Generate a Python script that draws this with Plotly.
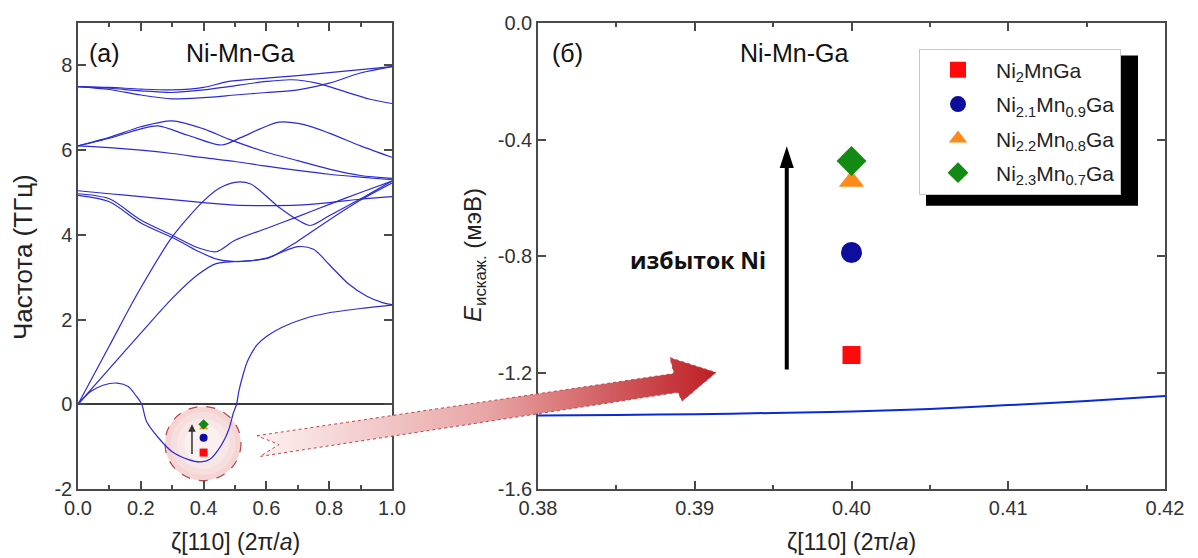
import plotly.graph_objects as go

# ---------------- data: left panel, phonon branches along [110] ----------------
A1_x = [0, 0.1, 0.2, 0.3, 0.4, 0.48, 0.6, 0.7, 0.8, 0.9, 1.0]
A1_y = [7.5, 7.48, 7.44, 7.42, 7.48, 7.62, 7.7, 7.76, 7.83, 7.9, 7.97]
A2_x = [0, 0.1, 0.2, 0.3, 0.4, 0.48, 0.6, 0.68, 0.76, 0.85, 0.93, 1.0]
A2_y = [7.5, 7.46, 7.4, 7.36, 7.42, 7.5, 7.62, 7.66, 7.58, 7.38, 7.2, 7.1]
A3_x = [0, 0.1, 0.2, 0.3, 0.4, 0.5, 0.6, 0.7, 0.8, 0.9, 1.0]
A3_y = [7.5, 7.43, 7.3, 7.21, 7.24, 7.3, 7.36, 7.42, 7.58, 7.82, 7.97]

B1_x = [0, 0.1, 0.2, 0.3, 0.4, 0.48, 0.6, 0.7, 0.8, 0.9, 1.0]
B1_y = [6.1, 6.3, 6.55, 6.69, 6.5, 6.26, 5.95, 5.75, 5.55, 5.4, 5.33]
B2_x = [0, 0.1, 0.2, 0.255, 0.35, 0.457, 0.52, 0.58, 0.64, 0.72, 0.8, 0.9, 1.0]
B2_y = [6.1, 6.28, 6.5, 6.57, 6.35, 6.12, 6.3, 6.5, 6.66, 6.6, 6.4, 6.1, 5.83]
B3_x = [0, 0.1, 0.2, 0.3, 0.4, 0.5, 0.6, 0.7, 0.8, 0.9, 1.0]
B3_y = [6.1, 6.06, 6.0, 5.92, 5.82, 5.73, 5.62, 5.52, 5.43, 5.36, 5.3]

C1_x = [0, 0.1, 0.2, 0.3, 0.4, 0.5, 0.6, 0.7, 0.8, 0.9, 1.0]
C1_y = [5.04, 4.97, 4.9, 4.83, 4.76, 4.7, 4.69, 4.7, 4.76, 4.84, 4.9]
C2_x = [0, 0.1, 0.2, 0.3, 0.38, 0.44, 0.5, 0.6, 0.7, 0.8, 0.9, 1.0]
C2_y = [4.97, 4.85, 4.35, 3.99, 3.7, 3.6, 3.87, 4.15, 4.43, 4.72, 5.0, 5.27]
C3_x = [0, 0.1, 0.2, 0.31, 0.38, 0.445, 0.52, 0.6, 0.7, 0.75, 0.8, 0.86, 0.92, 0.97, 1.0]
C3_y = [4.93, 4.78, 4.28, 3.9, 3.62, 3.42, 3.37, 3.45, 3.72, 3.66, 3.3, 2.85, 2.55, 2.4, 2.35]

D1_x = [0, 0.1, 0.19, 0.3, 0.4, 0.45, 0.5, 0.55, 0.64, 0.7, 0.74, 0.8, 0.9, 1.0]
D1_y = [0, 1.38, 2.62, 3.95, 4.8, 5.1, 5.24, 5.2, 4.65, 4.35, 4.22, 4.45, 4.85, 5.27]
D2_x = [0, 0.1, 0.2, 0.3, 0.38, 0.44, 0.5, 0.56, 0.61, 0.7, 0.8, 0.9, 1.0]
D2_y = [0, 0.84, 1.68, 2.5, 3.05, 3.32, 3.37, 3.4, 3.46, 3.85, 4.35, 4.82, 5.22]
D3_x = [0, 0.04, 0.08, 0.125, 0.16, 0.185, 0.203, 0.218, 0.256, 0.3, 0.35, 0.39,
        0.42, 0.457, 0.48, 0.495, 0.505, 0.512, 0.525, 0.54, 0.57, 0.6, 0.65, 0.72, 0.8, 0.91, 1.0]
D3_y = [0, 0.3, 0.45, 0.5, 0.42, 0.2, 0.0, -0.4, -0.79, -1.12, -1.3, -1.36,
        -1.3, -0.96, -0.6, -0.2, 0.0, 0.3, 0.68, 1.02, 1.4, 1.6, 1.82, 2.02, 2.16, 2.27, 2.34]

branches = [(A1_x, A1_y), (A2_x, A2_y), (A3_x, A3_y),
            (B1_x, B1_y), (B2_x, B2_y), (B3_x, B3_y),
            (C1_x, C1_y), (C2_x, C2_y), (C3_x, C3_y),
            (D1_x, D1_y), (D2_x, D2_y), (D3_x, D3_y)]

left_xticks = [0, 0.2, 0.4, 0.6, 0.8, 1.0]
left_xticktext = ["0.0", "0.2", "0.4", "0.6", "0.8", "1.0"]
left_yticks = [-2, 0, 2, 4, 6, 8]
left_yticktext = ["-2", "0", "2", "4", "6", "8"]

# ---------------- data: right panel ----------------
zoom_x = [0.38, 0.385, 0.39, 0.395, 0.40, 0.405, 0.41, 0.415, 0.42]
zoom_E = [-1.348, -1.346, -1.343, -1.339, -1.334, -1.325, -1.312, -1.298, -1.281]

compounds = ["Ni<sub>2</sub>MnGa", "Ni<sub>2.1</sub>Mn<sub>0.9</sub>Ga",
             "Ni<sub>2.2</sub>Mn<sub>0.8</sub>Ga", "Ni<sub>2.3</sub>Mn<sub>0.7</sub>Ga"]
comp_zeta = [0.40, 0.40, 0.40, 0.40]
comp_E = [-1.140, -0.788, -0.543, -0.474]
comp_symbols = ["square", "circle", "triangle-up", "diamond"]
comp_colors = ["#ff0a0a", "#0d0d9e", "#ff8a1a", "#138a13"]
comp_sizes = [18, 21, 22, 23]

right_xticks = [0.38, 0.39, 0.40, 0.41, 0.42]
right_xticktext = ["0.38", "0.39", "0.40", "0.41", "0.42"]
right_yticks = [0.0, -0.4, -0.8, -1.2, -1.6]
right_yticktext = ["0.0", "-0.4", "-0.8", "-1.2", "-1.6"]

# big connecting arrow outline (pixel coords of the figure)
bigarrow_px = [257, 674, 670, 716, 682, 678, 260, 279, 257]
bigarrow_py = [435, 372, 356, 371, 400, 391, 456, 444, 435]

# ---------------- figure ----------------
L, R, T, B = 78, 33, 17, 69
W, H = 1198, 558
PW, PH = W - L - R, H - T - B


def px2paper_x(px):
    return (px - L) / PW


def py2paper_y(py):
    return (H - B - py) / PH


BAND = "#2b2bd6"
AX = "#4a4a4a"
FONT = "Liberation Sans, Arial, sans-serif"

fig = go.Figure()

for bx, by in branches:
    fig.add_trace(go.Scatter(x=bx, y=by, mode="lines", line=dict(color=BAND, width=1.2, shape="spline", smoothing=0.8),
                             xaxis="x", yaxis="y", showlegend=False, hoverinfo="skip"))

# inset mini markers on the left panel
for i in range(4):
    fig.add_trace(go.Scatter(x=[comp_zeta[i]], y=[comp_E[i]], mode="markers",
                             marker=dict(symbol=comp_symbols[i], color=comp_colors[i], size=8),
                             xaxis="x", yaxis="y", showlegend=False, hoverinfo="skip"))

# right panel line
fig.add_trace(go.Scatter(x=zoom_x, y=zoom_E, mode="lines", line=dict(color="#0a2ad4", width=2, shape="spline"),
                         xaxis="x2", yaxis="y2", showlegend=False, hoverinfo="skip"))

for i in range(4):
    fig.add_trace(go.Scatter(x=[comp_zeta[i]], y=[comp_E[i]], mode="markers", name=compounds[i],
                             legendgroup=str(i),
                             marker=dict(symbol=comp_symbols[i], color=comp_colors[i], size=comp_sizes[i]),
                             xaxis="x2", yaxis="y2"))

# big arrow on an invisible full-area overlay axis (pixel coordinates)
fig.add_trace(go.Scatter(x=bigarrow_px, y=bigarrow_py, mode="lines", fill="toself",
                         fillgradient=dict(type="horizontal",
                                           colorscale=[[0, "#fdf1f1"], [0.5, "#e8a5a5"], [1, "#be1f25"]]),
                         line=dict(color="#c0454a", width=1, dash="dot"),
                         xaxis="x3", yaxis="y3", showlegend=False, hoverinfo="skip"))

axis_common = dict(showline=True, linecolor=AX, linewidth=1.5, mirror="ticks", ticks="inside",
                   ticklen=8, tickwidth=1.5, tickcolor=AX, showgrid=False,
                   tickfont=dict(family=FONT, size=20, color="#333"))

fig.update_layout(
    width=W, height=H,
    margin=dict(l=L, r=R, t=T, b=B),
    paper_bgcolor="white", plot_bgcolor="rgba(0,0,0,0)",
    font=dict(family=FONT, color="#222"),
    xaxis=dict(domain=[0, px2paper_x(392)], range=[0, 1], anchor="y",
               tickvals=left_xticks, ticktext=left_xticktext, zeroline=False,
               minor=dict(ticks="inside", ticklen=4, dtick=0.1, tick0=0, tickcolor=AX, tickwidth=1.5),
               **axis_common),
    yaxis=dict(domain=[0, 1], range=[-2, 9], anchor="x",
               tickvals=left_yticks, ticktext=left_yticktext,
               zeroline=True, zerolinecolor="#3a3a3a", zerolinewidth=2, **axis_common),
    xaxis2=dict(domain=[px2paper_x(538), 1], range=[0.38, 0.42], anchor="y2",
                tickvals=right_xticks, ticktext=right_xticktext, zeroline=False,
                minor=dict(ticks="inside", ticklen=4, dtick=0.005, tick0=0.38, tickcolor=AX, tickwidth=1.5),
                **axis_common),
    yaxis2=dict(domain=[0, 1], range=[-1.6, 0.0], anchor="x2",
                tickvals=right_yticks, ticktext=right_yticktext, zeroline=False, **axis_common),
    xaxis3=dict(domain=[0, 1], range=[L, W - R], anchor="y3", visible=False),
    yaxis3=dict(domain=[0, 1], range=[H - B, T], anchor="x3", visible=False),
    legend=dict(x=px2paper_x(919), y=py2paper_y(43), xanchor="left", yanchor="top",
                bgcolor="white", bordercolor="#c8c8c8", borderwidth=1,
                font=dict(family=FONT, size=21, color="#222"), tracegroupgap=4, itemwidth=66),
    showlegend=True,
)

# legend shadow
fig.add_shape(type="rect", xref="paper", yref="paper",
              x0=px2paper_x(926), x1=px2paper_x(1138), y0=py2paper_y(202), y1=py2paper_y(50),
              fillcolor="black", line=dict(width=0), layer="above")

# pink circle on left panel
fig.add_shape(type="circle", xref="x", yref="y", x0=0.277, x1=0.519, y0=-1.80, y1=-0.05,
              fillcolor="#f5d4d4", line=dict(color="#b5454a", width=1.2, dash="dash"), layer="below")
fig.add_shape(type="circle", xref="x", yref="y", x0=0.295, x1=0.501, y0=-1.67, y1=-0.18,
              fillcolor="#f7dede", line=dict(width=0), layer="below")
fig.add_shape(type="circle", xref="x", yref="y", x0=0.315, x1=0.481, y0=-1.52, y1=-0.33,
              fillcolor="#f9e7e7", line=dict(width=0), layer="below")
fig.add_shape(type="circle", xref="x", yref="y", x0=0.337, x1=0.459, y0=-1.36, y1=-0.49,
              fillcolor="#fbf0f0", line=dict(width=0), layer="below")

# inset arrow
fig.add_annotation(x=0.363, y=-0.47, ax=0.363, ay=-1.21, xref="x", yref="y", axref="x", ayref="y",
                   showarrow=True, arrowhead=2, arrowsize=1, arrowwidth=1.5, arrowcolor="#333", text="")

# big black arrow on right panel
fig.add_shape(type="line", xref="x2", yref="y2", x0=0.39587, x1=0.39587, y0=-1.19, y1=-0.49,
              line=dict(color="black", width=4))
fig.add_shape(type="path", xref="x2", yref="y2",
              path="M 0.39542 -0.498 L 0.39632 -0.498 L 0.39587 -0.423 Z",
              fillcolor="black", line=dict(width=0))

fig.add_annotation(x=0.39467, y=-0.815, xref="x2", yref="y2", xanchor="right", yanchor="middle",
                   showarrow=False, text="<b>избыток Ni</b>",
                   font=dict(family="Open Sans, sans-serif", size=23, color="#111"))

# panel labels
for txt, px in [("(a)", 104), ("Ni-Mn-Ga", 240), ("(б)", 567), ("Ni-Mn-Ga", 794)]:
    fig.add_annotation(x=px2paper_x(px), y=py2paper_y(47), xref="paper", yref="paper", showarrow=False,
                       xanchor="center", yanchor="middle",
                       text=txt, font=dict(family=FONT, size=25, color="#111"))

# axis titles
fig.add_annotation(x=px2paper_x(23), y=py2paper_y(254), xref="paper", yref="paper", showarrow=False,
                   xanchor="center", yanchor="middle",
                   text="Частота (ТГц)", textangle=-90, font=dict(family=FONT, size=26, color="#222"))
fig.add_annotation(x=px2paper_x(474), y=py2paper_y(252), xref="paper", yref="paper", showarrow=False,
                   xanchor="center", yanchor="middle",
                   text="<i>E</i><sub>искаж.</sub> (мэВ)", textangle=-90,
                   font=dict(family=FONT, size=24, color="#222"))
for px in (235, 851):
    fig.add_annotation(x=px2paper_x(px), y=py2paper_y(543), xref="paper", yref="paper", showarrow=False,
                       xanchor="center", yanchor="middle",
                       text="ζ[110] (2π/<i>a</i>)", font=dict(family=FONT, size=23, color="#222"))

fig.write_html("out.html")
